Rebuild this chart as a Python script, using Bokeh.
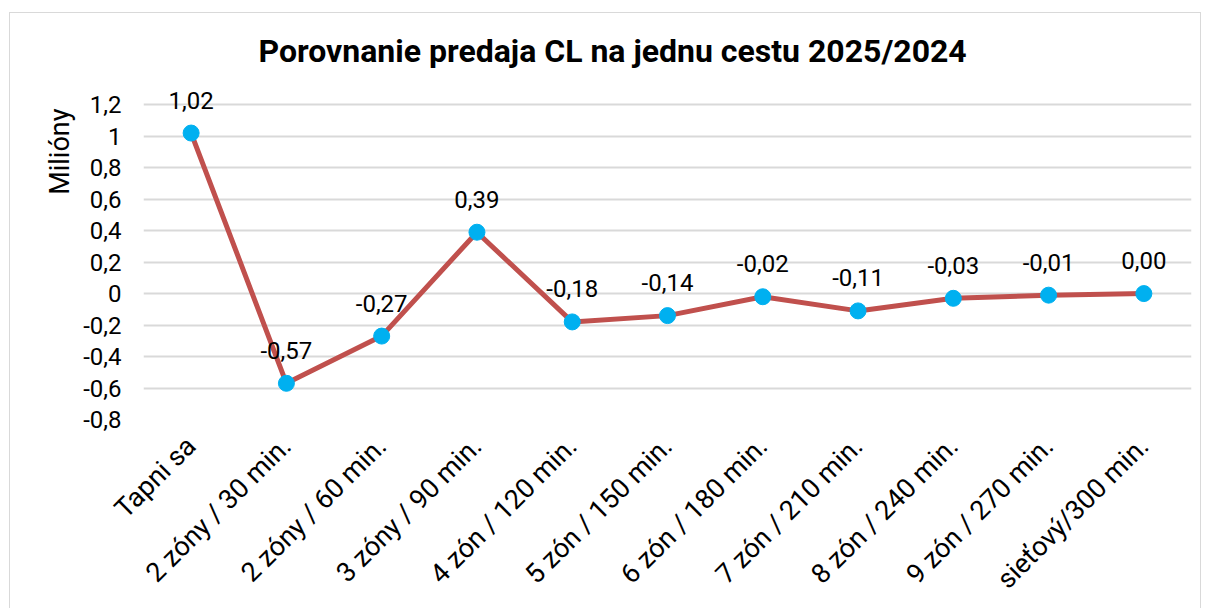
import math
from bokeh.plotting import figure
from bokeh.models import (ColumnDataSource, LabelSet, FixedTicker, Title,
                          CustomJSTickFormatter, Range1d, FactorRange)
from bokeh.embed import file_html
from bokeh.resources import INLINE
from bokeh.core.properties import value

categories = ["Tapni sa", "2 zóny / 30 min.", "2 zóny / 60 min.", "3 zóny / 90 min.",
              "4 zón / 120 min.", "5 zón / 150 min.", "6 zón / 180 min.", "7 zón / 210 min.",
              "8 zón / 240 min.", "9 zón / 270 min.", "sieťový/300 min."]
values = [1.02, -0.57, -0.27, 0.39, -0.18, -0.14, -0.02, -0.11, -0.03, -0.01, 0.00]
y_ticks = [-0.8, -0.6, -0.4, -0.2, 0, 0.2, 0.4, 0.6, 0.8, 1.0, 1.2]
title_text = "Porovnanie predaja CL na jednu cestu 2025/2024"
y_title = "Milióny"

FONT = "Roboto"
W, H = 1192, 596

src = ColumnDataSource(dict(
    x=categories, y=values,
    lab=[f"{v:.2f}".replace(".", ",") for v in values],
))

p = figure(width=W, height=H, x_range=FactorRange(*categories),
           y_range=Range1d(-0.8, 1.392), output_backend="svg", toolbar_location=None,
           min_border_left=133, min_border_right=11, min_border_top=61,
           min_border_bottom=190)
p.margin = (12, 0, 0, 9)
p.styles = {"border-top": "1px solid #d9d9d9", "border-left": "1px solid #d9d9d9",
            "border-right": "1px solid #d9d9d9"}
p.outline_line_color = None
p.background_fill_color = "white"
p.border_fill_color = "white"

p.title.text = title_text
p.title.align = "left"
p.title.offset = 115
p.title.standoff = 10
p.title.text_font = FONT
p.title.text_font_size = "32px"
p.title.text_font_style = "bold"
p.title.text_color = "black"

p.add_layout(Title(text=y_title, align="right", offset=34, text_font=FONT,
                   text_font_size="27px", text_font_style="normal",
                   text_color="black", standoff=10), "left")

p.xgrid.grid_line_color = None
p.ygrid.grid_line_color = "#D9D9D9"
p.ygrid.grid_line_width = 2

p.yaxis.ticker = FixedTicker(ticks=y_ticks)
p.yaxis.formatter = CustomJSTickFormatter(
    code="return (Math.round(tick*10)/10).toString().replace('.', ',');")
for ax in (p.xaxis, p.yaxis):
    ax.axis_line_color = None
    ax.major_tick_line_color = None
    ax.minor_tick_line_color = None
    ax.major_tick_out = 0
    ax.major_tick_in = 0
    ax.major_label_text_font = FONT
    ax.major_label_text_font_size = "24px"
    ax.major_label_text_color = "black"
p.xaxis.major_label_text_font_size = "27px"
p.yaxis.major_label_standoff = 22
p.xaxis.major_label_orientation = math.pi / 4
p.xaxis.major_label_standoff = 22

p.line(x="x", y="y", source=src, line_color="#C0504D", line_width=5)
p.scatter(x="x", y="y", source=src, size=16, fill_color="#00B0F0", line_color="#00B0F0")

p.add_layout(LabelSet(x="x", y="y", text="lab", source=src, y_offset=33,
                      text_align="center", text_baseline="middle",
                      text_font=value(FONT), text_font_size="24px", text_color="black"))

open("out.html", "w").write(file_html(p, INLINE))
